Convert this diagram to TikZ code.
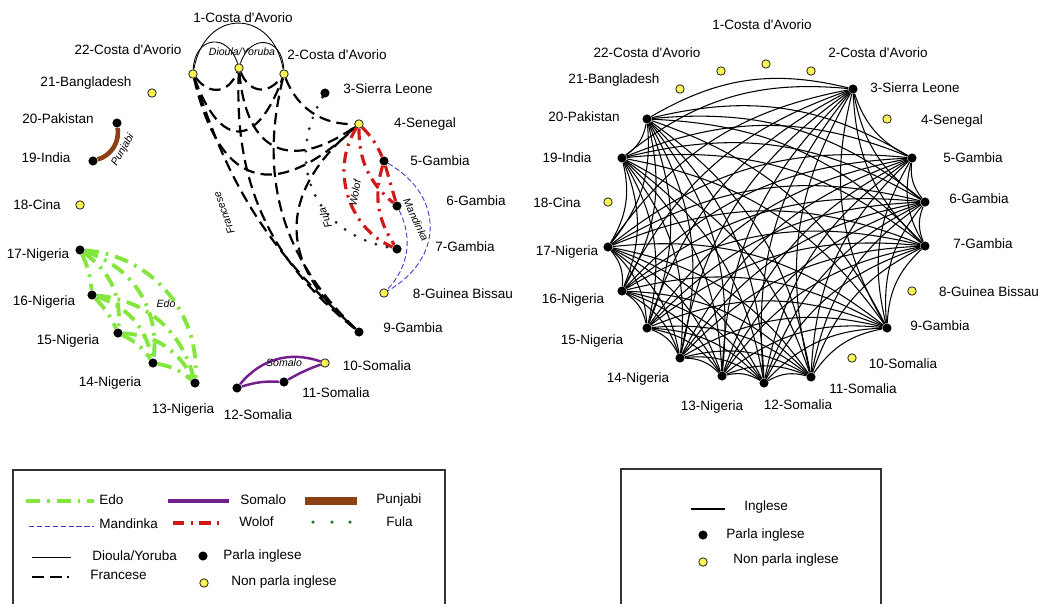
\documentclass[tikz,border=0pt]{standalone}
\usepackage{fontspec}
\setmainfont{Liberation Sans}[Ligatures = TeXOff]
\usetikzlibrary{calc}
\pgfdeclarelayer{bg}
\pgfsetlayers{bg,main}
\definecolor{edogreen}{RGB}{130,230,60}
\definecolor{somalopurple}{RGB}{115,30,140}
\definecolor{punjabibrown}{RGB}{140,65,20}
\definecolor{wolofred}{RGB}{210,25,25}
\definecolor{mandinkablue}{RGB}{60,60,200}
\definecolor{fulagreen}{RGB}{40,110,40}
\definecolor{dotyellow}{RGB}{250,245,80}
\tikzset{
    eng/.style = {circle, fill = black, inner sep = 0pt, minimum size = 5.2pt},
    noeng/.style = {circle, draw = black!80, fill = dotyellow, line width = 0.5pt, inner sep = 0pt, minimum size = 4.8pt},
    lbl/.style = {font = \fontsize{7.7}{9}\selectfont, inner sep = 0pt},
    lang/.style = {font = \fontsize{6}{7}\selectfont\itshape, inner sep = 0pt},
    dioula/.style = {black, line width = 0.5pt},
    francese/.style = {black, line width = 1.25pt, dash pattern = on 6.5pt off 3.5pt},
    edo/.style = {edogreen, line width = 2.2pt, dash pattern = on 8pt off 4pt on 1.5pt off 4pt},
    wolof/.style = {wolofred, line width = 1.8pt, dash pattern = on 6.5pt off 3.5pt on 1.4pt off 3.5pt},
    mandinka/.style = {mandinkablue, line width = 0.5pt, dash pattern = on 3pt off 1.5pt},
    fula/.style = {black!85, line width = 1.8pt, line cap = round, dash pattern = on 0pt off 6.5pt},
    somalo/.style = {somalopurple, line width = 1.4pt},
    punjabi/.style = {punjabibrown, line width = 2.6pt},
    inglese/.style = {black, line width = 0.6pt},
    frame/.style = {black!80, line width = 0.6pt}
}
\begin{document}
\begin{tikzpicture}[x = 0.02cm, y = -0.02cm]
            \useasboundingbox (0, 0) rectangle (1045, 603);
            
            \node[noeng] (a1) at (239, 68) {};
            \node[noeng] (a2) at (284, 74) {};
            \node[eng] (a3) at (325, 93) {};
            \node[noeng] (a4) at (359, 124) {};
            \node[eng] (a5) at (384, 161) {};
            \node[eng] (a6) at (397, 206) {};
            \node[eng] (a7) at (397, 249) {};
            \node[noeng] (a8) at (384, 293) {};
            \node[eng] (a9) at (359, 332) {};
            \node[noeng] (a10) at (325, 363) {};
            \node[eng] (a11) at (284, 382) {};
            \node[eng] (a12) at (237, 388) {};
            \node[eng] (a13) at (195, 383) {};
            \node[eng] (a14) at (153, 363) {};
            \node[eng] (a15) at (118, 333) {};
            \node[eng] (a16) at (92, 295) {};
            \node[eng] (a17) at (80, 250) {};
            \node[noeng] (a18) at (80, 205) {};
            \node[eng] (a19) at (93, 161) {};
            \node[eng] (a20) at (117, 123) {};
            \node[noeng] (a21) at (152, 93) {};
            \node[noeng] (a22) at (193, 74) {};
            
            \node[lbl] (la1) at (243, 18) {1-Costa d'Avorio};
            \node[lbl] (la2) at (337, 55) {2-Costa d'Avorio};
            \node[lbl] (la3) at (388, 89) {3-Sierra Leone};
            \node[lbl] (la4) at (425, 124) {4-Senegal};
            \node[lbl] (la5) at (440, 161) {5-Gambia};
            \node[lbl] (la6) at (476, 201) {6-Gambia};
            \node[lbl] (la7) at (465, 247) {7-Gambia};
            \node[lbl] (la8) at (463, 294) {8-Guinea Bissau};
            \node[lbl] (la9) at (413, 328) {9-Gambia};
            \node[lbl] (la10) at (377, 366) {10-Somalia};
            \node[lbl] (la11) at (336, 393) {11-Somalia};
            \node[lbl] (la12) at (258, 415) {12-Somalia};
            \node[lbl] (la13) at (183, 410) {13-Nigeria};
            \node[lbl] (la14) at (110, 383) {14-Nigeria};
            \node[lbl] (la15) at (68, 341) {15-Nigeria};
            \node[lbl] (la16) at (44, 302) {16-Nigeria};
            \node[lbl] (la17) at (38, 255) {17-Nigeria};
            \node[lbl] (la18) at (37, 205) {18-Cina};
            \node[lbl] (la19) at (46, 158) {19-India};
            \node[lbl] (la20) at (58, 119) {20-Pakistan};
            \node[lbl] (la21) at (86, 83) {21-Bangladesh};
            \node[lbl] (la22) at (128, 50) {22-Costa d'Avorio};
            
            \begin{pgfonlayer}{bg}
                \draw[dioula] (a22) to[bend left = 80, looseness = 1.9] (a1);
                \draw[dioula] (a1) to[bend left = 80, looseness = 1.9] (a2);
                \draw[dioula] (a22) to[bend left = 80, looseness = 1.8] (a2);
                
                \draw[francese] (a22) to[bend right = 60, looseness = 1.4] (a1);
                \draw[francese] (a1) to[bend right = 60, looseness = 1.4] (a2);
                \draw[francese] (a22) to[bend right = 70, looseness = 2.2] (a2);
                \draw[francese] (a22) to[bend right = 60, looseness = 1.7] (a4);
                \draw[francese] (a1) to[bend right = 60, looseness = 1.6] (a4);
                \draw[francese] (a2) to[bend right = 35] (a4);
                \draw[francese] (a22) to[bend right = 15] (a9);
                \draw[francese] (a1) to[bend right = 27] (a9);
                \draw[francese] (a2) to[bend right = 30] (a9);
                \draw[francese] (a4) to[bend right = 50, looseness = 1.3] (a9);
                
                \draw[wolof] (a4) to[bend left = 10] (a5);
                \draw[wolof] (a5) -- (a6);
                \draw[wolof] (a4) to[bend right = 25] (a6);
                \draw[wolof] (a4) to[bend right = 50] (a7);
                \draw[wolof] (a5) to[bend right = 25] (a7);
                
                \draw[mandinka] (a5) to[bend left = 60, looseness = 1.3] (a8);
                \draw[mandinka] (a6) to[bend left = 35] (a8);
                
                \draw[fula] (a3) to[bend right = 55, looseness = 1.2] (a7);
                
                \foreach \a/\b/\c in {17/13/45, 17/14/40, 17/15/30, 17/16/10, 16/13/35, 16/14/30, 16/15/10, 15/13/30, 15/14/15, 14/13/15}
                    \draw[edo] (a\a) to[bend left = \c] (a\b);
                
                \draw[somalo] (a12) to[bend left = 35] (a10);
                \draw[somalo] (a12) to[bend left = 10] (a11);
                \draw[somalo] (a11) to[bend left = 5] (a10);
                
                \draw[punjabi] (a19) to[bend right = 40] (a20);
            \end{pgfonlayer}
            
            \node[lang] (tdioula) at (242, 52) {Dioula/Yoruba};
            \node[lang, rotate = 110] (tfrancese) at (224, 213) {Francese};
            \node[lang, rotate = 110] (tfula) at (325, 218) {Fula};
            \node[lang, rotate = 80] (twolof) at (355, 193) {Wolof};
            \node[lang, rotate = -65] (tmandinka) at (416, 220) {Mandinka};
            \node[lang, rotate = 60] (tpunjabi) at (123, 150) {Punjabi};
            \node[lang] (tedo) at (166, 304) {Edo};
            \node[lang] (tsomalo) at (284, 363) {Somalo};
            
            \node[noeng] (r1) at (766, 64) {};
            \node[noeng] (r2) at (811, 71) {};
            \node[eng] (r3) at (853, 89) {};
            \node[noeng] (r4) at (887, 119) {};
            \node[eng] (r5) at (912, 158) {};
            \node[eng] (r6) at (925, 202) {};
            \node[eng] (r7) at (925, 246) {};
            \node[noeng] (r8) at (912, 291) {};
            \node[eng] (r9) at (887, 328) {};
            \node[noeng] (r10) at (852, 358) {};
            \node[eng] (r11) at (811, 377) {};
            \node[eng] (r12) at (764, 383) {};
            \node[eng] (r13) at (722, 376) {};
            \node[eng] (r14) at (680, 358) {};
            \node[eng] (r15) at (647, 328) {};
            \node[eng] (r16) at (622, 291) {};
            \node[eng] (r17) at (608, 247) {};
            \node[noeng] (r18) at (608, 202) {};
            \node[eng] (r19) at (622, 158) {};
            \node[eng] (r20) at (647, 119) {};
            \node[noeng] (r21) at (680, 89) {};
            \node[noeng] (r22) at (721, 71) {};
            
            \node[lbl] (lr1) at (762, 25) {1-Costa d'Avorio};
            \node[lbl] (lr2) at (878, 53) {2-Costa d'Avorio};
            \node[lbl] (lr3) at (915, 88) {3-Sierra Leone};
            \node[lbl] (lr4) at (952, 121) {4-Senegal};
            \node[lbl] (lr5) at (973, 158) {5-Gambia};
            \node[lbl] (lr6) at (979, 199) {6-Gambia};
            \node[lbl] (lr7) at (983, 244) {7-Gambia};
            \node[lbl] (lr8) at (989, 292) {8-Guinea Bissau};
            \node[lbl] (lr9) at (940, 326) {9-Gambia};
            \node[lbl] (lr10) at (903, 364) {10-Somalia};
            \node[lbl] (lr11) at (863, 389) {11-Somalia};
            \node[lbl] (lr12) at (798, 405) {12-Somalia};
            \node[lbl] (lr13) at (712, 407) {13-Nigeria};
            \node[lbl] (lr14) at (638, 379) {14-Nigeria};
            \node[lbl] (lr15) at (592, 341) {15-Nigeria};
            \node[lbl] (lr16) at (573, 300) {16-Nigeria};
            \node[lbl] (lr17) at (567, 252) {17-Nigeria};
            \node[lbl] (lr18) at (557, 203) {18-Cina};
            \node[lbl] (lr19) at (567, 158) {19-India};
            \node[lbl] (lr20) at (584, 117) {20-Pakistan};
            \node[lbl] (lr21) at (614, 80) {21-Bangladesh};
            \node[lbl] (lr22) at (647, 53) {22-Costa d'Avorio};
            
            \begin{pgfonlayer}{bg}
                \foreach \a [count = \i] in {3, 5, 6, 7, 9, 11, 12, 13, 14, 15, 16, 17, 19, 20} {
                    \foreach \b [count = \j] in {3, 5, 6, 7, 9, 11, 12, 13, 14, 15, 16, 17, 19, 20} {
                        \ifnum\i<\j \draw[inglese] (r\a) to[bend right = 22] (r\b); \fi
                    }
                }
            \end{pgfonlayer}
            
            \draw[frame] (13, 610) -- (13, 470) -- (445, 470) -- (445, 610);
            
            \draw[edo] (26, 501) -- (94, 501);
            \node[lbl, anchor = west] (kedo) at (99, 500) {Edo};
            \draw[somalo, line width = 2pt] (168, 501) -- (229, 501);
            \node[lbl, anchor = west] (ksomalo) at (240, 500) {Somalo};
            \draw[punjabi, line width = 4.4pt] (305, 501) -- (357, 501);
            \node[lbl, anchor = west] (kpunjabi) at (376, 500) {Punjabi};
            
            \draw[mandinka] (29, 526) -- (94, 526);
            \node[lbl, anchor = west] (kmandinka) at (99, 524) {Mandinka};
            \draw[wolof] (173, 523) -- (221, 523);
            \node[lbl, anchor = west] (kwolof) at (239, 522) {Wolof};
            \foreach \x in {313, 332, 350}
                \fill[fulagreen] (\x, 522) circle (1pt);
            \node[lbl, anchor = west] (kfula) at (386, 522) {Fula};
            
            \draw[dioula] (32, 557) -- (71, 557);
            \node[lbl, anchor = west] (kdioula) at (92, 556) {Dioula/Yoruba};
            \node[eng] (keng) at (203, 556) {};
            \node[lbl, anchor = west] (kparla) at (223, 556) {Parla inglese};
            
            \draw[francese, dash pattern = on 7pt off 3pt on 7pt off 3pt on 1.2pt off 9pt] (32, 577) -- (72, 577);
            \node[lbl, anchor = west] (kfrancese) at (90, 575) {Francese};
            \node[noeng] (knoeng) at (204, 583) {};
            \node[lbl, anchor = west] (knon) at (231, 582) {Non parla inglese};
            
            \draw[frame] (621, 610) -- (621, 469) -- (881, 469) -- (881, 610);
            
            \draw[inglese, line width = 0.9pt] (691, 509) -- (725, 509);
            \node[lbl, anchor = west] (kinglese) at (744, 507) {Inglese};
            \node[eng] (reng) at (703, 535) {};
            \node[lbl, anchor = west] (rparla) at (726, 535) {Parla inglese};
            \node[noeng] (rnoeng) at (703, 562) {};
            \node[lbl, anchor = west] (rnon) at (733, 560) {Non parla inglese};
            
        \end{tikzpicture}
\end{document}
